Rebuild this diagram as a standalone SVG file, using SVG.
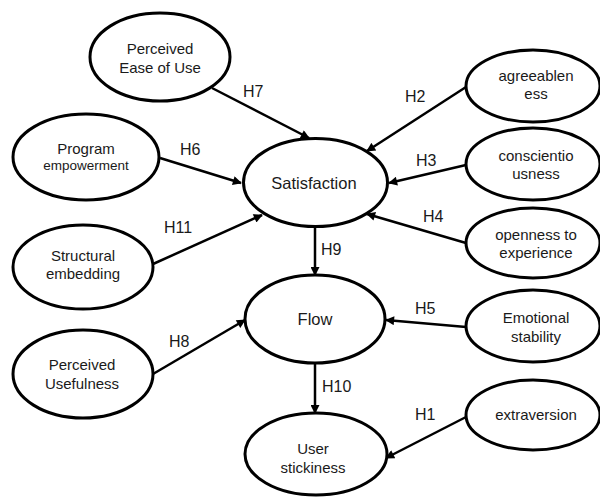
<svg xmlns="http://www.w3.org/2000/svg" width="600" height="497" viewBox="0 0 600 497">
<style>
.n ellipse{fill:#fff;stroke:#000;stroke-width:3}
text{font-family:"Liberation Sans",Arial,sans-serif;fill:#1a1a1a;text-anchor:middle}
.t{font-size:15px}
.s{font-size:13.5px}
.b{font-size:16.5px}
.h{font-size:16px;text-anchor:start}
.c line{stroke:#000;stroke-width:2.5;marker-end:url(#ah)}
</style>
<defs>
<marker id="ah" viewBox="0 0 10 10" refX="9" refY="5" markerWidth="11" markerHeight="9" markerUnits="userSpaceOnUse" orient="auto">
<path d="M0,0 L10,5 L0,10 Z" fill="#000"/>
</marker>
</defs>
<rect width="600" height="497" fill="#fff"/>
<g class="c" id="connectors">
<line x1="212" y1="88" x2="309" y2="138"/>
<line x1="160" y1="158" x2="241" y2="183"/>
<line x1="153" y1="264" x2="262" y2="215"/>
<line x1="466" y1="87" x2="367" y2="151"/>
<line x1="466" y1="165" x2="389" y2="183"/>
<line x1="466" y1="243" x2="367" y2="214"/>
<line x1="315" y1="227" x2="315" y2="275"/>
<line x1="466" y1="327" x2="386" y2="320"/>
<line x1="315" y1="363" x2="315" y2="413"/>
<line x1="466" y1="417" x2="386" y2="458"/>
<line x1="153" y1="374" x2="245" y2="320"/>
</g>
<g id="labels">
<text class="h" x="243" y="97">H7</text>
<text class="h" x="180" y="155">H6</text>
<text class="h" x="164" y="233">H11</text>
<text class="h" x="405" y="102">H2</text>
<text class="h" x="416" y="166">H3</text>
<text class="h" x="423" y="222">H4</text>
<text class="h" x="321" y="255">H9</text>
<text class="h" x="415" y="314">H5</text>
<text class="h" x="322" y="392">H10</text>
<text class="h" x="415" y="420">H1</text>
<text class="h" x="169" y="347">H8</text>
</g>
<g class="n" id="peou">
<ellipse cx="160" cy="57" rx="70" ry="44"/>
<text class="t" x="160" y="54">Perceived</text>
<text class="t" x="160" y="73">Ease of Use</text>
</g>
<g class="n" id="program">
<ellipse cx="86" cy="157" rx="73" ry="43"/>
<text class="t" x="86" y="154">Program</text>
<text class="s" x="86" y="170">empowerment</text>
</g>
<g class="n" id="structural">
<ellipse cx="83" cy="267" rx="70" ry="42"/>
<text class="t" x="83" y="261">Structural</text>
<text class="t" x="83" y="279">embedding</text>
</g>
<g class="n" id="pu">
<ellipse cx="83" cy="374" rx="70" ry="44"/>
<text class="t" x="82" y="370">Perceived</text>
<text class="t" x="82" y="389">Usefulness</text>
</g>
<g class="n" id="satisfaction">
<ellipse cx="315.5" cy="182.5" rx="72" ry="44"/>
<text class="b" x="314" y="189">Satisfaction</text>
</g>
<g class="n" id="flow">
<ellipse cx="315" cy="319" rx="70" ry="44"/>
<text class="b" x="315" y="325">Flow</text>
</g>
<g class="n" id="stickiness">
<ellipse cx="316" cy="454" rx="71" ry="41"/>
<text class="t" x="313" y="454">User</text>
<text class="t" x="313" y="473">stickiness</text>
</g>
<g class="n" id="agreeableness">
<ellipse cx="533" cy="86" rx="67" ry="36"/>
<text class="t" x="536" y="81">agreeablen</text>
<text class="t" x="536" y="99">ess</text>
</g>
<g class="n" id="conscientiousness">
<ellipse cx="533" cy="164" rx="67" ry="36"/>
<text class="t" x="536" y="161">conscientio</text>
<text class="t" x="536" y="179">usness</text>
</g>
<g class="n" id="openness">
<ellipse cx="533" cy="243" rx="67" ry="35"/>
<text class="t" x="536" y="240">openness to</text>
<text class="t" x="536" y="258">experience</text>
</g>
<g class="n" id="emotional">
<ellipse cx="533" cy="326" rx="67" ry="36"/>
<text class="t" x="536" y="323">Emotional</text>
<text class="t" x="536" y="342">stability</text>
</g>
<g class="n" id="extraversion">
<ellipse cx="533" cy="415" rx="67" ry="35"/>
<text class="t" x="536" y="420">extraversion</text>
</g>
</svg>
